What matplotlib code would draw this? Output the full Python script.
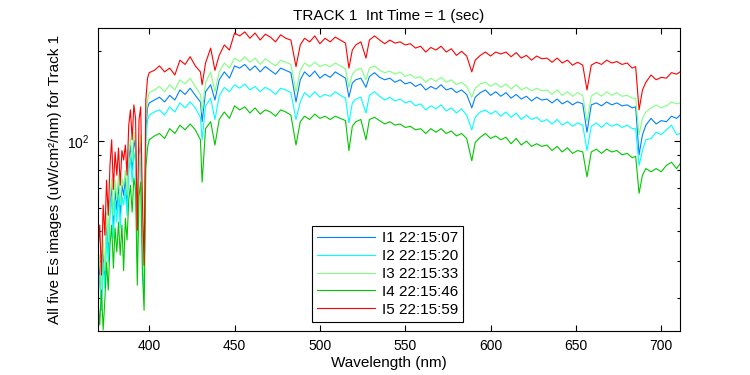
#!/usr/bin/env python
"""
Es spectra for track 1, five images, log scale.
"""
import matplotlib
matplotlib.use("Agg")
import matplotlib.pyplot as plt
from matplotlib.ticker import LogLocator, NullFormatter, FixedLocator
import numpy as np

# wavelength grid (nm)
wavelength = [370, 371, 372, 373, 374, 375, 376, 377, 378, 379,
              380, 381, 382, 383, 384, 385, 386, 387, 388, 389,
              390, 391, 392, 393, 394, 395, 396, 397, 398, 399,
              400, 403, 406, 409, 412, 415, 418, 421, 424, 427,
              430, 431, 433, 436, 438.5, 441, 444, 447, 450, 453,
              456, 459, 462, 465, 468, 471, 474, 477, 480, 483,
              486, 488.5, 491, 494, 497, 500, 503, 506, 509, 512,
              515, 517, 519, 521, 524, 527, 529, 532, 535, 538,
              541, 544, 547, 550, 553, 556, 559, 562, 565, 568,
              571, 574, 577, 580, 583, 586, 589, 591, 594, 597,
              600, 603, 606, 609, 612, 615, 618, 621, 624, 627,
              630, 633, 636, 639, 642, 645, 648, 651, 654, 656.5,
              659, 662, 665, 668, 671, 674, 677, 680, 683, 685,
              687, 689, 691, 694, 697, 700, 703, 706, 709, 711]

es_i1 = [31.9, 38.6, 29.5, 43.3, 34.4, 53.7, 43.3, 61.2, 71.3, 52.5,
         69, 59, 72.4, 56.6, 71.3, 66, 75.3, 61.2, 86.5, 97,
         80, 101, 93, 41.7, 90, 99, 46.8, 33.1, 109, 129,
         134, 137, 140, 135, 142, 137, 148, 143, 150, 142,
         135, 116, 146, 154, 137, 160, 170, 162, 178, 175,
         180, 172, 178, 170, 177, 172, 167, 175, 172, 169,
         135, 160, 170, 164, 171, 162, 167, 163, 170, 166,
         162, 140, 156, 160, 162, 151, 164, 169, 163, 160,
         162, 157, 160, 155, 157, 152, 155, 148, 152, 149,
         154, 148, 150, 145, 148, 143, 129, 140, 145, 148,
         142, 146, 141, 145, 139, 143, 138, 141, 136, 140,
         137, 138, 134, 138, 133, 136, 132, 135, 133, 107,
         132, 134, 131, 135, 132, 134, 131, 132, 129, 130,
         90, 105, 113, 119, 114, 117, 116, 121, 119, 122]

es_i2 = [29.5, 35.8, 27.3, 39.5, 32.4, 48.6, 39.5, 56.6, 64.6, 47.5,
         63.6, 53.7, 66, 51.3, 65.5, 61.2, 69, 56.6, 79, 87.8,
         73, 92, 85, 39.5, 81, 90, 44, 31.4, 99, 117.5,
         122, 125, 127, 122, 130, 125, 134, 129, 135, 129,
         120, 101, 131, 139, 118, 141, 151, 146, 154, 150,
         155, 148, 152, 146, 151, 148, 143, 150, 148, 145,
         118, 135, 145, 140, 146, 140, 143, 141, 146, 142,
         139, 115, 134, 138, 140, 124, 142, 146, 141, 137,
         140, 136, 138, 134, 136, 131, 133, 127, 131, 128,
         132, 126, 129, 124, 128, 122, 109, 120, 125, 127,
         123, 126, 121, 125, 120, 124, 118, 122, 118, 120,
         116, 118, 114, 118, 113, 116, 112, 115, 113, 93,
         112, 115, 111, 115, 112, 114, 111, 113, 110, 110,
         83, 93, 101, 102, 107, 105, 109, 113, 105, 106]

es_i3 = [34.4, 41.7, 31.4, 46.8, 37, 58, 46.1, 64.6, 75.3, 56.6,
         74.1, 63.6, 77, 61.2, 75.3, 70.8, 80, 66, 92, 102,
         85, 107, 99, 44, 95, 105, 49.7, 34.9, 116, 137,
         145, 148, 152, 146, 154, 148, 160, 155, 162, 152,
         143, 125, 157, 170, 146, 170, 182, 175, 189, 184,
         191, 183, 189, 180, 188, 183, 178, 186, 183, 180,
         146, 172, 182, 177, 183, 177, 180, 177, 182, 178,
         174, 151, 167, 172, 175, 160, 175, 178, 172, 169,
         171, 167, 170, 164, 167, 162, 164, 157, 162, 158,
         163, 157, 160, 154, 157, 152, 140, 150, 155, 157,
         152, 156, 151, 155, 149, 154, 148, 151, 147, 150,
         147, 148, 143, 148, 142, 146, 141, 145, 142, 116,
         141, 145, 141, 146, 142, 145, 141, 142, 139, 139,
         105, 119, 125, 129, 132, 129, 131, 135, 133, 134]

es_i4 = [29.5, 24.4, 31.9, 23.5, 29.5, 39.5, 31.9, 45, 52.5, 37.7,
         51.3, 42.7, 53.7, 41.7, 52.5, 37, 55.3, 46.8, 63.6, 71.3,
         58, 75.3, 69, 33.1, 65.5, 73, 36.6, 27.3, 81, 95,
         101, 104, 106, 102, 110, 106, 113, 109, 114, 109,
         101, 73, 110, 116, 97, 118, 125, 119, 131, 127,
         130, 124, 129, 123, 127, 125, 121, 127, 125, 122,
         97, 116, 121, 118, 123, 119, 121, 118, 121, 119,
         117, 93, 112, 116, 118, 101, 118, 120, 117, 114,
         116, 113, 114, 111, 112, 109, 110, 106, 110, 107,
         110, 106, 108, 104, 106, 102, 86, 99, 103, 106,
         102, 104, 101, 103, 98, 102, 97, 100, 96, 98,
         96, 97, 93, 96, 92, 95, 91, 93, 92, 76,
         92, 94, 91, 94, 92, 93, 90, 91, 88, 89,
         67, 77, 81, 79, 81, 79, 83, 85, 81, 84]

es_i5 = [43.3, 52.5, 35.8, 61.2, 48.6, 74.1, 56.6, 83, 101, 69,
         92, 77, 94.8, 71.3, 93, 86.5, 97, 77, 113, 127,
         101, 132, 119, 50.5, 117.5, 130, 63.6, 38.6, 137, 162,
         169, 172, 178, 170, 175, 166, 186, 180, 191, 178,
         170, 154, 182, 204, 172, 193, 209, 201, 229, 224,
         231, 220, 229, 217, 227, 222, 214, 226, 220, 217,
         177, 209, 220, 214, 224, 211, 220, 214, 222, 217,
         212, 175, 201, 209, 214, 189, 217, 224, 217, 211,
         217, 212, 214, 209, 211, 204, 207, 198, 205, 201,
         207, 198, 203, 193, 199, 192, 170, 186, 193, 198,
         192, 198, 195, 198, 191, 197, 189, 193, 186, 192,
         188, 189, 183, 189, 182, 186, 179, 183, 179, 148,
         179, 183, 180, 186, 182, 184, 180, 182, 175, 177,
         127, 148, 157, 166, 160, 163, 162, 169, 167, 170]

labels = ["I1 22:15:07", "I2 22:15:20", "I3 22:15:33",
          "I4 22:15:46", "I5 22:15:59"]
colors = ["#0080ff", "#00ffff", "#80ff80", "#00c800", "#ff0000"]

plt.rcParams["font.family"] = ["Liberation Sans", "DejaVu Sans"]
plt.rcParams["mathtext.fontset"] = "custom"
plt.rcParams["mathtext.rm"] = "Liberation Sans"

fig = plt.figure(figsize=(7.5, 3.75), dpi=100)
ax = fig.add_axes([0.1307, 0.1173, 0.776, 0.808])

for series, c, lab in zip([es_i1, es_i2, es_i3, es_i4, es_i5], colors, labels):
    ax.plot(wavelength, series, color=c, lw=0.8, label=lab)

ax.set_yscale("log")
ax.set_xlim(370, 711)
ax.set_ylim(23.3, 238)
ax.xaxis.set_major_locator(FixedLocator([400, 450, 500, 550, 600, 650, 700]))
ax.yaxis.set_major_locator(LogLocator(base=10, numticks=5))
ax.yaxis.set_minor_locator(LogLocator(base=10, subs=np.arange(2, 10), numticks=10))
ax.yaxis.set_minor_formatter(NullFormatter())
ax.tick_params(which="both", direction="in", top=True, right=True,
               labelsize=10, width=0.8)
ax.tick_params(which="major", length=4, pad=6)
ax.tick_params(which="minor", length=2.5)
for s in ax.spines.values():
    s.set_linewidth(0.8)

ax.set_title("TRACK 1  Int Time = 1 (sec)", fontsize=11, pad=6)
ax.set_xlabel("Wavelength (nm)", fontsize=11, labelpad=2)
ax.set_ylabel("All five Es images (uW/cm\u00b2/nm) for Track 1", fontsize=11,
              labelpad=4)

leg = ax.legend(loc="lower left", bbox_to_anchor=(0.3677, 0.0297),
                borderaxespad=0, fancybox=False, edgecolor="black",
                framealpha=1, fontsize=11, handlelength=3.8,
                handletextpad=0.4, labelspacing=0.25, borderpad=0.35)
leg.get_frame().set_linewidth(0.8)

fig.savefig("out.png", dpi=100)
